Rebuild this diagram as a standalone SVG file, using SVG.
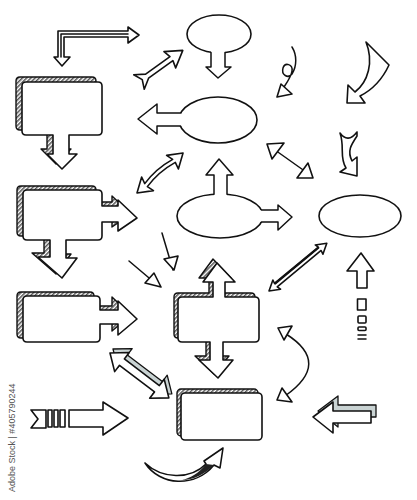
<svg xmlns="http://www.w3.org/2000/svg" width="417" height="500" viewBox="0 0 417 500">
<defs>
<pattern id="hatch" width="3" height="3" patternUnits="userSpaceOnUse" patternTransform="rotate(45)">
<rect width="3" height="3" fill="#fff"/><line x1="0.8" y1="0" x2="0.8" y2="3" stroke="#333" stroke-width="1.3"/>
</pattern>
<style>
.s{fill:#fff;stroke:#111;stroke-width:1.6;stroke-linejoin:round;stroke-linecap:round}
.h{fill:url(#hatch);stroke:#111;stroke-width:1.4;stroke-linejoin:round}
.g{fill:#c9d3d3;stroke:#111;stroke-width:1.3;stroke-linejoin:round}
.l{fill:none;stroke:#111;stroke-width:1.5;stroke-linecap:round;stroke-linejoin:round}
.f{fill:#fff;stroke:none}
.t{font-family:"Liberation Sans",Arial,sans-serif;font-size:9px;fill:#555}
</style>
</defs>
<rect width="417" height="500" fill="#fff"/>

<g id="box1">
<path class="h" transform="translate(-6,-5)" d="M26,82 H98 Q102,82 102,86 V131 Q102,135 98,135 H69 V154 H77 L62,169 L47,154 H53 V135 H26 Q22,135 22,131 V86 Q22,82 26,82 Z"/>
<path class="s" d="M26,82 H98 Q102,82 102,86 V131 Q102,135 98,135 H69 V154 H77 L62,169 L47,154 H53 V135 H26 Q22,135 22,131 V86 Q22,82 26,82 Z"/>
</g>

<g id="box2">
<path class="h" transform="translate(-6,-4)" d="M27,190 H98 Q102,190 102,194 V206 H118 V200 L137,218 L118,231 V222 H102 V236 Q102,240 98,240 H66 V258 H77 L62,278 L38,257 H50 V240 H27 Q23,240 23,236 V194 Q23,190 27,190 Z"/>
<path class="s" d="M27,190 H98 Q102,190 102,194 V206 H118 V200 L137,218 L118,231 V222 H102 V236 Q102,240 98,240 H66 V258 H77 L62,278 L38,257 H50 V240 H27 Q23,240 23,236 V194 Q23,190 27,190 Z"/>
</g>

<g id="box3">
<path class="h" transform="translate(-6,-4)" d="M27,296 H96 Q100,296 100,300 V310 H118 V301 L137,319 L118,335 V324 H100 V338 Q100,342 96,342 H27 Q23,342 23,338 V300 Q23,296 27,296 Z"/>
<path class="s" d="M27,296 H96 Q100,296 100,300 V310 H118 V301 L137,319 L118,335 V324 H100 V338 Q100,342 96,342 H27 Q23,342 23,338 V300 Q23,296 27,296 Z"/>
</g>

<g id="box-center">
<path class="h" transform="translate(-4,-4)" d="M182,297 H213 V282 H203 L217,263 L235,282 H225 V297 H255 Q259,297 259,301 V338 Q259,342 255,342 H223 V360 H233 L218,378 L199,360 H210 V342 H182 Q178,342 178,338 V301 Q178,297 182,297 Z"/>
<path class="s" d="M182,297 H213 V282 H203 L217,263 L235,282 H225 V297 H255 Q259,297 259,301 V338 Q259,342 255,342 H223 V360 H233 L218,378 L199,360 H210 V342 H182 Q178,342 178,338 V301 Q178,297 182,297 Z"/>
</g>

<g id="box-bottom">
<rect class="h" x="177" y="389" width="81" height="47" rx="4"/>
<rect class="s" x="181" y="393" width="81" height="47" rx="4"/>
</g>

<g id="ellipse-top">
<ellipse class="s" cx="219" cy="34" rx="32" ry="19"/>
<polygon class="f" points="211,48 225,48 225,67 231,67 218,78 206,67 211,67"/>
<polyline class="l" points="211,52.5 211,67 206,67 218,78 231,67 225,67 225,52.5"/>
</g>

<g id="ellipse-left-arrow">
<ellipse class="s" cx="218" cy="120" rx="39" ry="23"/>
<polygon class="f" points="184,113 157,113 157,104 138,119 157,134 157,126 184,126"/>
<polyline class="l" points="181,113 157,113 157,104 138,119 157,134 157,126 180.5,126"/>
</g>

<g id="ellipse-center">
<ellipse class="s" cx="220" cy="216" rx="43" ry="22"/>
<polygon class="f" points="214,198 214,175 206,175 219,159 233,175 227,175 227,198"/>
<polyline class="l" points="214,194.3 214,175 206,175 219,159 233,175 227,175 227,194.3"/>
<polygon class="f" points="258,210 278,210 278,205 292,217 278,230 278,222 258,222"/>
<polyline class="l" points="261.4,210 278,210 278,205 292,217 278,230 278,222 261.4,222"/>
</g>

<g id="ellipse-right">
<ellipse class="s" cx="360" cy="216" rx="41" ry="21"/>
</g>

<g id="connectors">
<g id="l-arrow">
<path class="s" stroke-width="2" d="M58,31 H128 V27 L139,35 L128,43 V37 H64 V57 H70 L62,66 L54,57 H58 Z"/>
<polyline class="l" stroke-width="0.9" points="61,57 61,34 128,34"/>
</g>
<g id="arrow-upright" transform="translate(139,82) rotate(-35.8)">
<polygon class="s" points="54,0 38,-10 40,-2.5 10,-2.5 0,-9 4,0 0,9 10,2.5 40,2.5 38,10"/>
</g>
<g id="curly">
<path class="l" d="M292,47 C297,55 297,66 292,74 C288,79 281,75 283,68 C285,62 293,64 292,71 C291,78 285,85 282,90"/>
<polygon class="s" points="277,97 281,84 292,94"/>
</g>
<g id="curved-big">
<path class="s" d="M366,42 L389,65 C382,80 372,90 360,96 L365,103 L347,103 L348,85 L355,92 C368,82 374,62 366,42 Z"/>
</g>
<g id="double-curve" transform="translate(137,193) rotate(-41)">
<path class="s" d="M0,0 L14,-9 L12,-2 Q30,-6 49,-2 L47,-9 L61,0 L47,9 L49,2 Q30,-2 12,2 L14,9 Z"/>
</g>
<g id="twist">
<path class="s" d="M340,133 C345,140 351,140 357,132 L357,136 C351,145 347,151 352,161 L357,157 L357,176 L340,172 L346,168 C339,157 345,147 340,133 Z"/>
</g>
<g id="thin-double">
<line class="l" x1="275" y1="150" x2="306" y2="172"/>
<polygon class="s" points="267,144 284,143 272,159"/>
<polygon class="s" points="297,178 313,178 308,163"/>
</g>
<g id="long-double" transform="translate(269,291) rotate(-39.6)">
<polygon class="s" stroke-width="1.2" points="0,0 10,-6 9,-2 66,-2 65,-6 75,0 65,6 66,2 9,2 10,6"/>
<line x1="9" y1="-2" x2="66" y2="-2" stroke="#111" stroke-width="2.4"/>
</g>
<g id="thin-arrows">
<line class="l" x1="129" y1="261" x2="155" y2="283"/>
<polygon class="s" points="145,283 154,273 161,287"/>
<line class="l" x1="162" y1="233" x2="173" y2="270"/>
<polygon class="s" points="164,259 178,256 174,270"/>
</g>
<g id="up-dashes">
<path class="s" d="M357,288 V271 H347 L361,253 L374,271 H367 V288 Z"/>
<rect class="s" x="357.5" y="299" width="8.5" height="11"/>
<rect class="s" x="358" y="316" width="8" height="7" rx="1"/>
<rect class="s" x="358" y="327" width="8" height="3.5" rx="1"/>
<line class="l" x1="358" y1="335" x2="366" y2="335"/>
<line class="l" x1="358" y1="339" x2="366" y2="339"/>
</g>
<g id="arc-double">
<path class="l" d="M286,334 Q332,363 285,396"/>
<polygon class="s" points="278,328 292,326 284,340"/>
<polygon class="s" points="277,400 282,388 292,402"/>
</g>
<g id="arrow-3d-double">
<g transform="translate(113,349) rotate(37.3)">
<polygon class="g" points="0,0 15,-12 15,-4 59,-4 59,-12 74,0 59,12 59,4 15,4 15,12"/>
</g>
<g transform="translate(110,353) rotate(37.3)">
<polygon class="s" stroke-width="1.3" points="0,0 15,-12 15,-4 59,-4 59,-12 74,0 59,12 59,4 15,4 15,12"/>
</g>
</g>
<g id="bars-arrow">
<polygon class="s" points="31,410 46,410 46,428 31,428 38,419"/>
<rect class="s" x="48" y="410" width="4" height="17"/>
<rect class="s" x="54" y="410" width="4" height="17"/>
<rect class="s" x="60" y="410" width="5" height="17"/>
<path class="s" d="M69,410 H103 V402 L128,418 L103,435 V427 H69 Z"/>
</g>
<g id="arrow-3d-left">
<path class="g" transform="translate(5,-6)" d="M313,417 L333,402 V411 H371 V423 H333 V433 Z"/>
<path class="s" stroke-width="1.3" d="M313,417 L333,402 V411 H371 V423 H333 V433 Z"/>
</g>
<g id="bottom-curve">
<path class="s" d="M145,463 C162,479 190,480 206,464 L204,461 L223,448 L220,468 L214,465 C195,488 160,486 145,463 Z"/>
<path d="M206,464 C198,474 190,478 182,480 C193,480 205,474 214,465 Z" fill="#222"/>
</g>
</g>

<text class="t" transform="translate(15,492) rotate(-90)">Adobe Stock | #405790244</text>
</svg>
